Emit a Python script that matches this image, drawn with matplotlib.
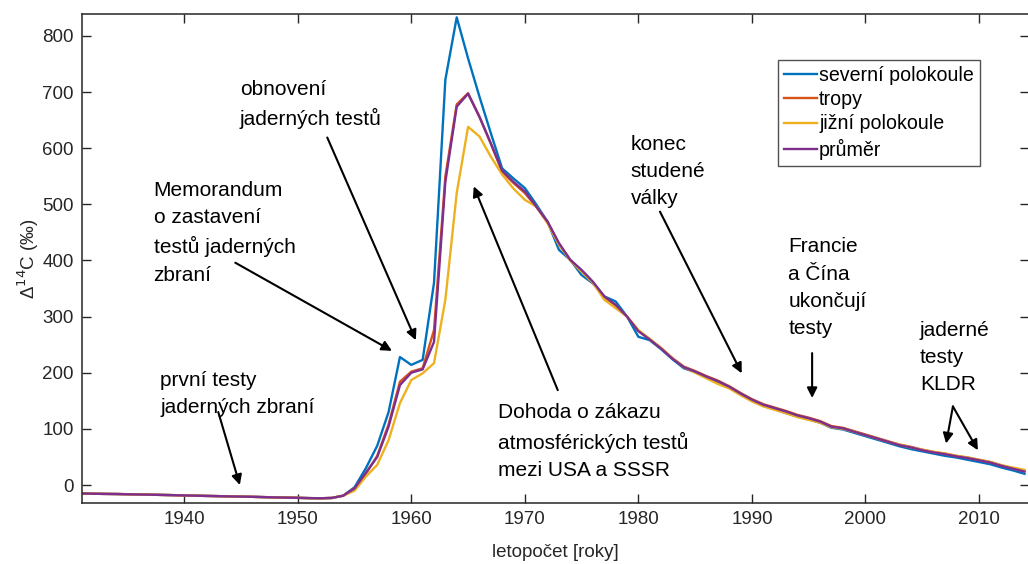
import numpy as np
import matplotlib.pyplot as plt

plt.rcParams['font.family'] = ['Liberation Sans', 'DejaVu Sans']

years = np.arange(1931, 2015)

# Delta 14C [permil], one value per year
prumer = [
    -15, -15.5, -15.8, -16, -16.4, -16.8, -17.2, -17.6, -18, -18.5,
    -19, -19.4, -19.8, -20.2, -20.6, -21, -21.5, -22, -22.4, -22.8,
    -23.3, -23.6, -23, -19, -6, 22, 50, 104, 178, 200,
    206, 255, 540, 674, 697, 656, 609, 560, 540, 523,
    496, 469, 431, 401, 383, 362, 336, 321, 300, 274,
    259, 243, 225, 210, 202, 193, 185, 175, 163, 152,
    143, 137, 131, 124, 119, 113, 104, 101, 95, 89,
    83, 77, 71, 67, 62, 58, 55, 51, 48, 44,
    40, 34, 29, 24,
]
severni = [
    -15, -15.5, -15.8, -16, -16.4, -16.8, -17.2, -17.6, -18, -18.5,
    -19, -19.4, -19.8, -20.2, -20.6, -21, -21.5, -22, -22.4, -22.8,
    -23.3, -23.6, -23, -19, -4, 30, 70, 130, 228, 214,
    223, 360, 722, 833, 760, 692, 627, 564, 546, 529,
    500, 469, 419, 401, 374, 359, 336, 327, 300, 264,
    258, 242, 224, 208, 201, 192, 184, 174, 162, 150,
    141, 135, 128, 122, 117, 111, 102, 99, 93, 87,
    81, 75, 69, 64, 60, 56, 52, 49, 45, 41,
    37, 31, 26, 20,
]
tropy = [
    -15, -15.5, -15.8, -16, -16.4, -16.8, -17.2, -17.6, -18, -18.5,
    -19, -19.4, -19.8, -20.2, -20.6, -21, -21.5, -22, -22.4, -22.8,
    -23.3, -23.6, -23, -19, -6, 20, 52, 108, 184, 202,
    208, 276, 550, 678, 698, 656, 608, 558, 538, 520,
    496, 469, 430, 401, 382, 361, 335, 320, 300, 275,
    260, 244, 226, 211, 203, 194, 186, 176, 164, 153,
    144, 138, 132, 125, 120, 114, 105, 102, 96, 90,
    84, 78, 72, 68, 63, 59, 56, 52, 49, 45,
    41, 35, 30, 25,
]
jizni = [
    -15, -15.5, -15.8, -16, -16.4, -16.8, -17.2, -17.6, -18, -18.5,
    -19, -19.4, -19.8, -20.2, -20.6, -21, -21.5, -22, -22.4, -22.8,
    -23.3, -23.6, -23, -19, -10, 15, 36, 80, 146, 187,
    199, 217, 330, 520, 638, 621, 585, 553, 528, 508,
    496, 466, 428, 400, 380, 360, 330, 315, 300, 276,
    260, 244, 226, 210, 200, 190, 180, 172, 160, 149,
    140, 134, 128, 121, 116, 111, 103, 100, 95, 89,
    83, 77, 72, 67, 63, 59, 56, 52, 49, 45,
    41, 35, 31, 27,
]

series = [
    ('severní polokoule', severni, '#0072BD'),
    ('tropy', tropy, '#D95319'),
    ('jižní polokoule', jizni, '#EDB120'),
    ('průměr', prumer, '#7E2F8E'),
]

# (text, text position, list of arrows as (start, tip)) in data units
notes = [
    ('první testy\njaderných zbraní', (1937.9, 203), [((1943.0, 130), (1944.9, 0))]),
    ('Memorandum\no zastavení\ntestů jaderných\nzbraní', (1937.3, 542), [((1944.5, 396), (1958.3, 239))]),
    ('obnovení\njaderných testů', (1944.9, 722), [((1952.6, 619), (1960.4, 258))]),
    ('Dohoda o zákazu\natmosférických testů\nmezi USA a SSSR', (1967.6, 146), [((1972.9, 169), (1965.5, 532))]),
    ('konec\nstudené\nválky', (1979.3, 624), [((1981.9, 487), (1989.1, 199))]),
    ('Francie\na Čína\nukončují\ntesty', (1993.2, 441), [((1995.3, 235), (1995.3, 155))]),
    ('jaderné\ntesty\nKLDR', (2004.8, 293), [((2007.7, 140), (2007.1, 74)),
                                            ((2007.7, 140), (2009.9, 62))]),
]

fig = plt.figure(figsize=(10.28, 5.64), dpi=100)
ax = fig.add_axes([82 / 1028, 61 / 564, 947 / 1028, 489 / 564])

for name, vals, col in series:
    ax.plot(years, vals, color=col, lw=1.7, label=name)

ink = '#262626'
ax.set_xlim(1931, 2014.4)
ax.set_ylim(-32, 839)
ax.set_xticks(np.arange(1940, 2011, 10))
ax.set_yticks(np.arange(0, 801, 100))
ax.tick_params(direction='in', length=6.5, width=1.0, colors=ink, labelsize=13.5,
               top=True, right=True, pad=6)
for s in ax.spines.values():
    s.set_color(ink)
    s.set_linewidth(1.1)

ax.set_xlabel('letopočet [roky]', fontsize=13.5, color=ink, labelpad=11)
ax.set_ylabel('Δ$^{14}$C (‰)', fontsize=13.5, color=ink, labelpad=1)

for txt, (tx, ty), arrows in notes:
    ax.text(tx, ty, txt, fontsize=15, ha='left', va='top', linespacing=1.55, color='black')
    for start, tip in arrows:
        ax.annotate('', xy=tip, xytext=start,
                    arrowprops=dict(arrowstyle='-|>', lw=1.5, color='black',
                                    mutation_scale=15, shrinkA=0, shrinkB=0))

leg = ax.legend(loc='upper left', bbox_to_anchor=(696 / 947, 1 - 46 / 489),
                fontsize=14.1, frameon=True, fancybox=False, handlelength=1.7,
                handletextpad=0.1, borderpad=0.3, labelspacing=0.27, borderaxespad=0)
leg.get_frame().set_edgecolor(ink)
leg.get_frame().set_linewidth(1.0)

fig.savefig('out.png', dpi=100)
